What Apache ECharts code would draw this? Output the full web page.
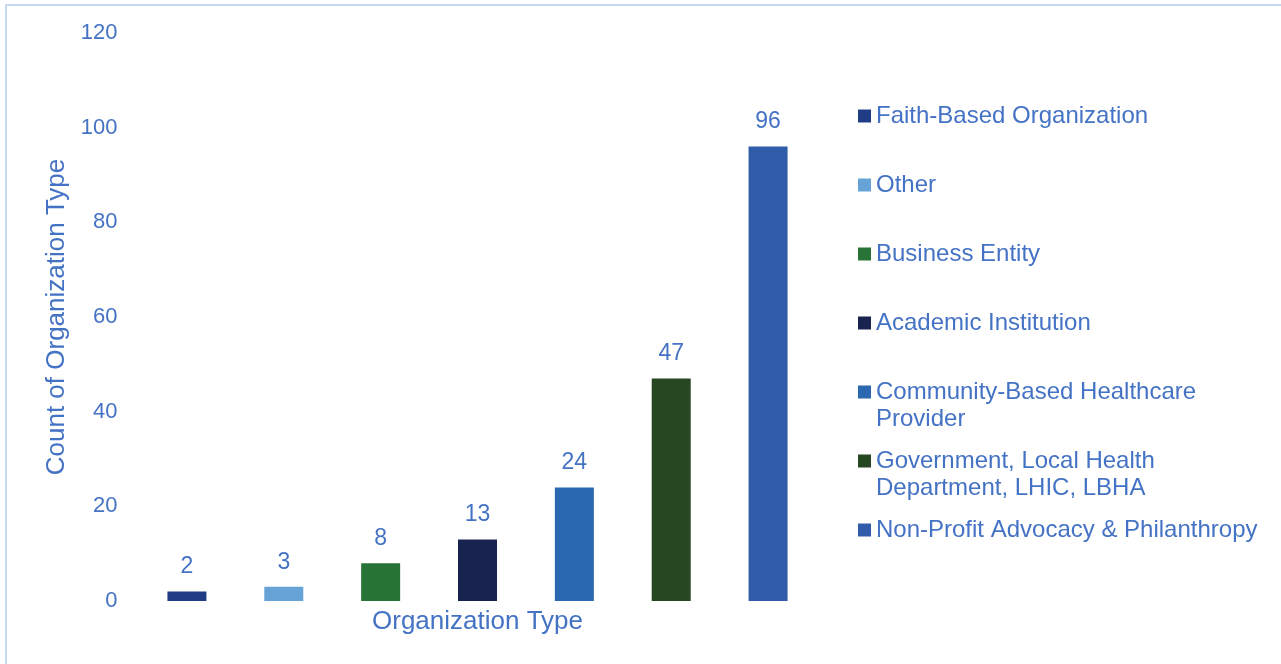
<!DOCTYPE html>
<html>
<head>
<meta charset="utf-8">
<script src="https://cdn.jsdelivr.net/npm/echarts@6/dist/echarts.min.js"></script>
<style>
html,body{margin:0;padding:0;background:#fff;}
#chart{width:1281px;height:664px;}
</style>
</head>
<body>
<div id="chart"></div>
<script>
const categories = [
  'Faith-Based Organization',
  'Other',
  'Business Entity',
  'Academic Institution',
  'Community-Based Healthcare Provider',
  'Government, Local Health Department, LHIC, LBHA',
  'Non-Profit Advocacy & Philanthropy'
];
const legendLabels = [
  'Faith-Based Organization',
  'Other',
  'Business Entity',
  'Academic Institution',
  'Community-Based Healthcare\nProvider',
  'Government, Local Health\nDepartment, LHIC, LBHA',
  'Non-Profit Advocacy & Philanthropy'
];
const values = [2, 3, 8, 13, 24, 47, 96];
const colors = ['#1f3c84', '#67a3d7', '#277436', '#19234f', '#2a69b1', '#264721', '#315ca9'];
const yTicks = {min: 0, max: 120, interval: 20};

const textColor = '#4472c4';
const fontFamily = 'Liberation Sans, Arial, sans-serif';

const series = categories.map((name, i) => ({
  name: name,
  type: 'bar',
  stack: 'all',
  barWidth: 39,
  itemStyle: {color: colors[i]},
  label: {
    show: true,
    position: 'top',
    distance: 13,
    color: textColor,
    fontSize: 23,
    fontFamily: fontFamily
  },
  data: categories.map((c, j) => (j === i ? values[i] : '-'))
}));

const legends = categories.map((name, i) => {
  const lines = legendLabels[i].split('\n').length;
  const c = 116 + i * 69;
  // multi-line items: blank first line so the first text line sits beside the icon
  const text = lines > 1 ? ' \n' + legendLabels[i] : legendLabels[i];
  return {
    data: [name],
    orient: 'vertical',
    left: 858,
    top: lines > 1 ? c - 40.5 : c - 13.5,
    padding: 0,
    itemWidth: 13,
    itemHeight: 13,
    icon: 'rect',
    selectedMode: false,
    formatter: () => text,
    textStyle: {
      color: textColor,
      fontSize: 24,
      lineHeight: 27,
      fontFamily: fontFamily
    }
  };
});

const chart = echarts.init(document.getElementById('chart'));
chart.setOption({
  backgroundColor: '#ffffff',
  animation: false,
  graphic: [{
    type: 'rect',
    shape: {x: 6, y: 5, width: 1400, height: 800},
    style: {fill: 'none', stroke: '#c6d9f0', lineWidth: 2},
    silent: true
  }],
  grid: {left: 138.5, right: 464.5, top: 33, bottom: 63},
  legend: legends,
  xAxis: {
    type: 'category',
    data: categories,
    axisLine: {show: false},
    axisTick: {show: false},
    axisLabel: {show: false},
    name: 'Organization Type',
    nameLocation: 'middle',
    nameGap: 8,
    nameTextStyle: {color: textColor, fontSize: 26, fontFamily: fontFamily}
  },
  yAxis: {
    type: 'value',
    min: yTicks.min,
    max: yTicks.max,
    interval: yTicks.interval,
    axisLine: {show: false},
    axisTick: {show: false},
    splitLine: {show: false},
    axisLabel: {color: textColor, fontSize: 22, margin: 21, fontFamily: fontFamily},
    name: 'Count of Organization Type',
    nameLocation: 'middle',
    nameGap: 68,
    nameTextStyle: {color: textColor, fontSize: 26, fontFamily: fontFamily}
  },
  series: series
});
</script>
</body>
</html>
